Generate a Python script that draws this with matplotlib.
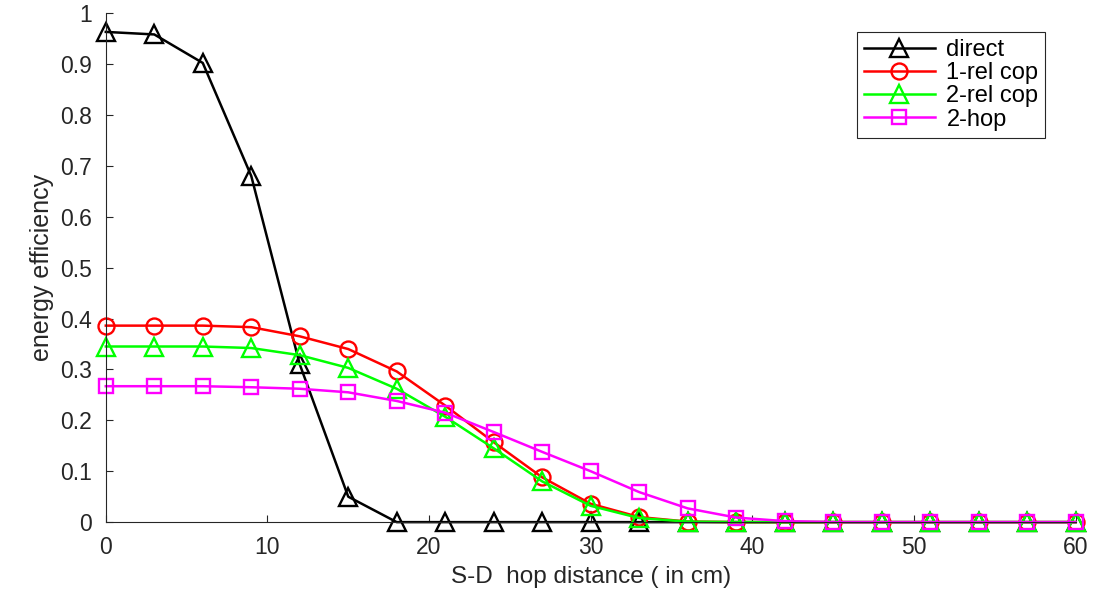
import numpy as np
import matplotlib.pyplot as plt

plt.rcParams['font.family'] = ['Liberation Sans', 'DejaVu Sans']

distance = [0, 3, 6, 9, 12, 15, 18, 21, 24, 27, 30, 33, 36, 39, 42, 45, 48, 51, 54, 57, 60]
direct = [0.963, 0.958, 0.902, 0.680, 0.310, 0.050, 0.0, 0.0, 0.0, 0.0, 0.0,
          0.0, 0.0, 0.0, 0.0, 0.0, 0.0, 0.0, 0.0, 0.0, 0.0]
rel1 = [0.386, 0.386, 0.386, 0.383, 0.365, 0.340, 0.296, 0.229, 0.157, 0.088, 0.036,
        0.010, 0.001, 0.0, 0.0, 0.0, 0.0, 0.0, 0.0, 0.0, 0.0]
rel2 = [0.345, 0.345, 0.345, 0.342, 0.328, 0.303, 0.262, 0.207, 0.145, 0.080, 0.032,
        0.008, 0.001, 0.0, 0.0, 0.0, 0.0, 0.0, 0.0, 0.0, 0.0]
hop2 = [0.267, 0.267, 0.267, 0.265, 0.262, 0.255, 0.238, 0.215, 0.177, 0.138, 0.100,
        0.059, 0.027, 0.009, 0.002, 0.0, 0.0, 0.0, 0.0, 0.0, 0.0]

fig = plt.figure(figsize=(11.02, 5.94), dpi=100)
ax = fig.add_axes([0.096, 0.121, 0.88, 0.857])

kw = dict(linewidth=1.8, markerfacecolor='none', markeredgewidth=1.7)
ax.plot(distance, direct, '-^', color='black', label='direct', markersize=13, **kw)
ax.plot(distance, rel1, '-o', color='red', label='1-rel cop', markersize=11.5, **kw)
ax.plot(distance, rel2, '-^', color='#00ff00', label='2-rel cop', markersize=13, **kw)
ax.plot(distance, hop2, '-s', color='magenta', label='2-hop', markersize=9.5, **kw)

ax.set_xlim(0, 60)
ax.set_ylim(0, 1)
ax.set_xticks([0, 10, 20, 30, 40, 50, 60])
ax.set_yticks([0, 0.1, 0.2, 0.3, 0.4, 0.5, 0.6, 0.7, 0.8, 0.9, 1])
ax.set_yticklabels(['0', '0.1', '0.2', '0.3', '0.4', '0.5', '0.6', '0.7', '0.8', '0.9', '1'])
ax.tick_params(direction='in', length=5, labelsize=16.5, colors='#262626', pad=10)
for s in ['top', 'right']:
    ax.spines[s].set_visible(False)
for s in ['left', 'bottom']:
    ax.spines[s].set_color('#262626')
for line in ax.lines:
    line.set_clip_on(False)

ax.set_xlabel('S-D  hop distance ( in cm)', fontsize=17.5, color='#262626', labelpad=5)
ax.set_ylabel('energy efficiency', fontsize=18, color='#262626', labelpad=4)

leg = ax.legend(loc='upper right', bbox_to_anchor=(0.969, 0.963), borderaxespad=0,
                fontsize=17, fancybox=False, edgecolor='#262626', framealpha=1,
                handlelength=3.0, borderpad=0.3, labelspacing=0.05, handletextpad=0.5)
leg.get_frame().set_linewidth(0.8)

fig.savefig('out.png', dpi=100)
